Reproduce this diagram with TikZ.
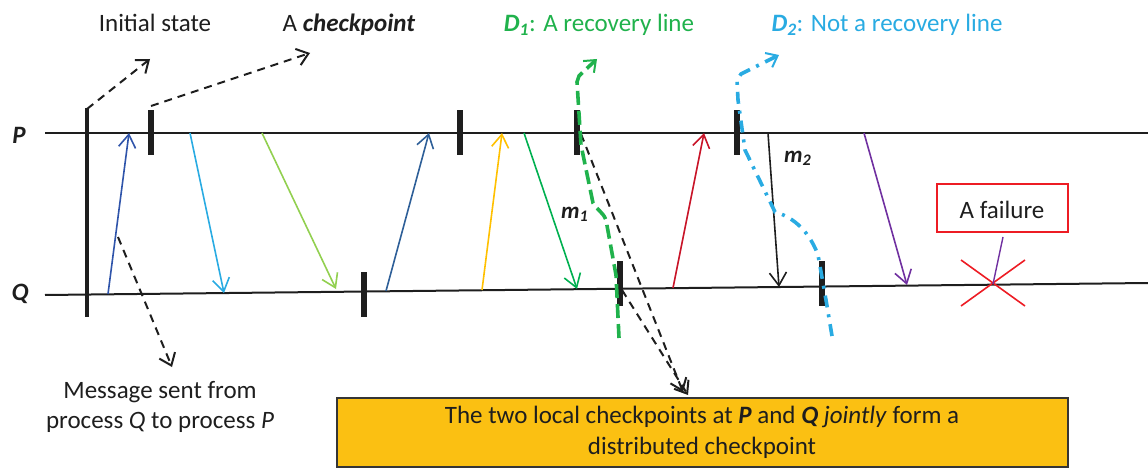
\documentclass[tikz,border=0pt]{standalone}
\usepackage{fontspec}
\setmainfont{Carlito}
\usetikzlibrary{arrows.meta}
\definecolor{cDark}{RGB}{47,84,170}
\definecolor{cSky}{RGB}{41,171,226}
\definecolor{cLime}{RGB}{146,208,80}
\definecolor{cSteel}{RGB}{46,95,152}
\definecolor{cGold}{RGB}{255,192,0}
\definecolor{cGreen}{RGB}{0,176,80}
\definecolor{cDone}{RGB}{32,178,76}
\definecolor{cRed}{RGB}{200,20,40}
\definecolor{cPurple}{RGB}{112,48,160}
\definecolor{cFail}{RGB}{237,28,36}
\definecolor{cBox}{RGB}{251,192,18}
\definecolor{cInk}{RGB}{30,30,30}
\tikzset{
  lbl/.style={font=\fontsize{25}{30}\selectfont, inner sep=0pt, text=cInk},
  mlbl/.style={font=\fontsize{23}{27}\selectfont\bfseries\itshape, inner sep=0pt, text=cInk},
  pline/.style={line width=2pt, cInk},
  ckpt/.style={fill=cInk, draw=none, minimum width=6pt, inner sep=0pt},
  msgarrow/.style={line width=1.6pt, -{Straight Barb[length=13pt,width=17pt]}},
  pointer/.style={line width=2pt, cInk, dash pattern=on 8pt off 6pt, -{Straight Barb[length=11pt,width=17pt]}},
  lineone/.style={line width=3.6pt, cDone, dash pattern=on 14pt off 6pt, -{Straight Barb[length=10pt,width=16pt,line width=2pt]}},
  linetwo/.style={line width=3.6pt, cSky, dash pattern=on 12pt off 7pt on 3pt off 7pt, -{Straight Barb[length=10pt,width=16pt,line width=2pt]}},
}
\begin{document}
\begin{tikzpicture}[x=1pt,y=-1pt]
\useasboundingbox (0,0) rectangle (1148,468);

% process lines
\coordinate (Ps) at (45,133);
\coordinate (Pe) at (1148,133);
\coordinate (Qs) at (45,295);
\coordinate (Qe) at (1148,283);
\draw[pline] (Ps) -- (Pe);
\draw[pline] (Qs) -- (Qe);
\node[lbl, font=\fontsize{25}{30}\selectfont\bfseries\itshape, anchor=base] (Plbl) at (19,143) {P};
\node[lbl, font=\fontsize{25}{30}\selectfont\bfseries\itshape, anchor=base] (Qlbl) at (20,300) {Q};

% initial state bar
\node[ckpt, minimum width=3.6pt, minimum height=209pt] (init) at (87,212.5) {};

% checkpoints on P
\node[ckpt, minimum height=45pt] (cp1) at (151,132.5) {};
\node[ckpt, minimum height=45pt] (cp2) at (460,132.5) {};
\node[ckpt, minimum height=45pt] (cp3) at (577,132.5) {};
\node[ckpt, minimum height=45pt] (cp4) at (737,132.5) {};
% checkpoints on Q
\node[ckpt, minimum height=45pt] (cq1) at (364,294.5) {};
\node[ckpt, minimum height=45pt] (cq2) at (620,283.5) {};
\node[ckpt, minimum height=45pt] (cq3) at (822,283.5) {};

% message end points
\coordinate (a1) at (108,294); \coordinate (a2) at (129,133);
\coordinate (b1) at (190,133); \coordinate (b2) at (224,293);
\coordinate (c1) at (262,133); \coordinate (c2) at (336,289);
\coordinate (d1) at (386,291); \coordinate (d2) at (429,133);
\coordinate (e1) at (482,290); \coordinate (e2) at (502,133);
\coordinate (f1) at (524,133); \coordinate (f2) at (577,289);
\coordinate (g1) at (673,288); \coordinate (g2) at (704,133);
\coordinate (h1) at (768,133); \coordinate (h2) at (779,287);
\coordinate (k1) at (864,133); \coordinate (k2) at (907,285);

\draw[msgarrow, cDark]   (a1) -- (a2);
\draw[msgarrow, cSky]    (b1) -- (b2);
\draw[msgarrow, cLime]   (c1) -- (c2);
\draw[msgarrow, cSteel]  (d1) -- (d2);
\draw[msgarrow, cGold]   (e1) -- (e2);
\draw[msgarrow, cGreen]  (f1) -- (f2);
\draw[msgarrow, cRed]    (g1) -- (g2);
\draw[msgarrow, cInk]    (h1) -- (h2);
\draw[msgarrow, cPurple] (k1) -- (k2);

\node[mlbl, anchor=base west] (m1) at (561,218) {m\textsubscript{1}};
\node[mlbl, anchor=base west] (m2) at (784,162) {m\textsubscript{2}};

% top labels
\node[lbl, anchor=base] (tinit) at (155,32) {Initial state};
\node[lbl, anchor=base] (tckpt) at (349,32) {A \textbf{\textit{checkpoint}}};
\node[lbl, anchor=base, text=cDone] (tD1) at (599,32) {\textbf{\textit{D\textsubscript{1}}}: A recovery line};
\node[lbl, anchor=base, text=cSky] (tD2) at (887,32) {\textbf{\textit{D\textsubscript{2}}}: Not a recovery line};

% pointers to labels
\coordinate (i0) at (87,109); \coordinate (i1) at (150,59);
\draw[pointer] (i0) -- (i1);
\coordinate (k0) at (151,106); \coordinate (k9) at (310,53);
\draw[pointer] (k0) -- (k9);

% message note
\coordinate (n0) at (118,237); \coordinate (n1) at (172,367);
\draw[pointer] (n0) -- (n1);
\node[lbl, align=center, anchor=base] (note1) at (160,398) {Message sent from};
\node[lbl, anchor=base] (note2) at (160,428) {process \textit{Q} to process \textit{P}};

% distributed checkpoint box
\node[draw=cInk!90, line width=1.2pt, fill=cBox, minimum width=731pt, minimum height=69pt, inner sep=0pt] (box) at (702.5,432.5) {};
\node[lbl, anchor=base] (bt1) at (702,423) {The two local checkpoints at \textbf{\textit{P}} and \textbf{\textit{Q}} \textit{jointly} form a};
\node[lbl, anchor=base] (bt2) at (702,454) {distributed checkpoint};
\coordinate (z1) at (683,392); \coordinate (z2) at (688,395);
\coordinate (s1) at (581,134); \coordinate (s2) at (622,290);
\draw[pointer] (s1) -- (z1);
\draw[pointer] (s2) -- (z2);

% recovery line D1
\draw[lineone] (619,338) -- (616,275) -- (606,220) .. controls (603,212) and (597,210) .. (593,203) -- (581,145) -- (577,82) -- (579,76) -- (583,72) -- (597,59);

% non recovery line D2
\draw[linetwo] (832,336) -- (826,300) -- (818,255) .. controls (808,228) and (790,216) .. (775,212) -- (745,150) -- (738,100) -- (737,80) -- (741,74) -- (779,55);

% failure
\coordinate (x0) at (993,284);
\coordinate (xa) at (961,260); \coordinate (xb) at (1025,306);
\coordinate (xc) at (961,306); \coordinate (xd) at (1025,260);
\draw[cFail, line width=1.6pt] (xa) -- (xb);
\draw[cFail, line width=1.6pt] (xc) -- (xd);
\node[lbl, draw=cFail, line width=1.4pt, minimum width=131pt, minimum height=48pt] (fail) at (1002.5,208) {};
\node[lbl, anchor=base] (failt) at (1002,218) {A failure};
\coordinate (fb) at (1003,237);
\draw[cPurple, line width=1.4pt] (fb) -- (x0);
\end{tikzpicture}
\end{document}
